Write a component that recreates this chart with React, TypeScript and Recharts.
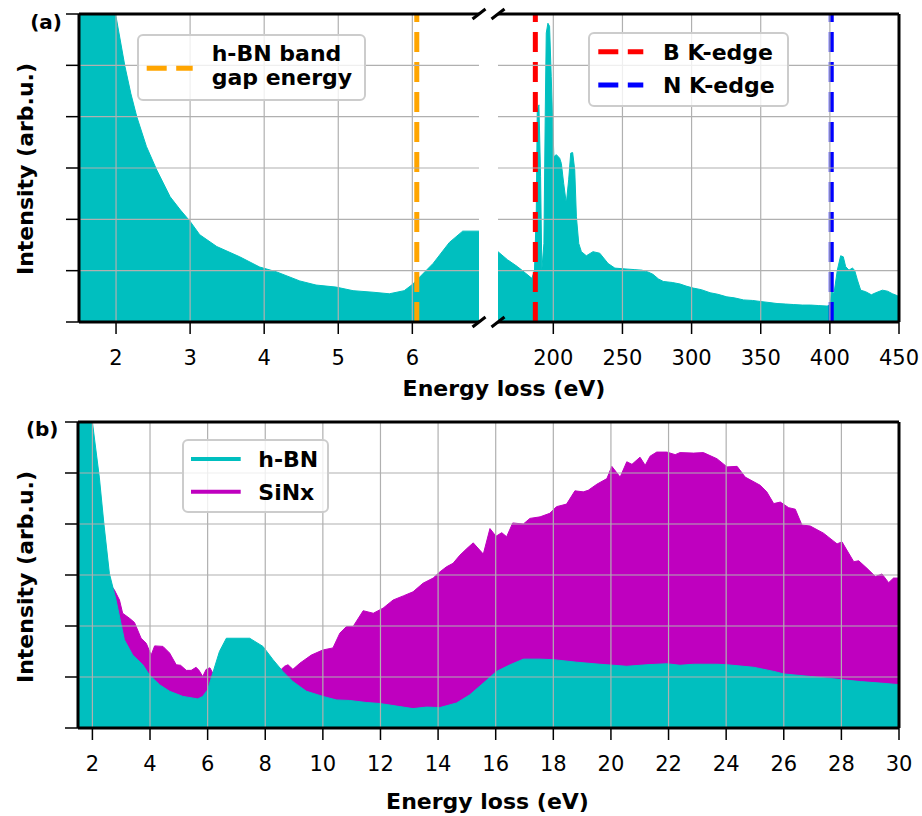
import React from 'react';
import { ComposedChart, Area, XAxis, YAxis, ReferenceLine, Legend } from 'recharts';

const TEAL = '#00BFBF';
const MAGENTA = '#BF00BF';
const ORANGE = '#FFA500';
const RED = '#FF0000';
const BLUE = '#0000FF';
const FONT = 'DejaVu Sans';

// Panel (a) left: low-loss region of h-BN
const lowLossX = [1.5, 1.75, 2.0, 2.12, 2.2, 2.28, 2.41, 2.55, 2.73, 2.87, 3.0, 3.13, 3.36, 3.67, 3.94, 4.16, 4.48, 4.7, 4.97, 5.2, 5.47, 5.69, 5.89, 6.0, 6.28, 6.5, 6.68, 6.9];
const lowLossY = [12, 8.4, 5.95, 4.98, 4.45, 4.0, 3.42, 2.96, 2.44, 2.18, 1.96, 1.7, 1.47, 1.27, 1.07, 0.98, 0.8, 0.72, 0.68, 0.61, 0.58, 0.55, 0.61, 0.73, 1.14, 1.55, 1.77, 1.77];

// Panel (a) right: core-loss region (B and N K-edges)
const coreLossX = [160, 167, 174, 180, 184.5, 186.4, 187.7, 188.4, 189.6, 190.8, 191.7, 193.2, 194.2, 194.9, 196.1, 197.3, 198.5, 200.4, 202.2, 204.6, 205.8, 207.5, 209.4, 211.1, 212.6, 214, 215.5, 216.7, 218.4, 220.3, 223.9, 228.7, 233.6, 239.6, 244.5, 249, 254, 259, 264, 268, 272, 276, 279.5, 286, 291.7, 296, 301.3, 307, 313.4, 319, 325.5, 331, 337.6, 344, 349.7, 356, 361.8, 368, 373.9, 380, 386, 392, 398, 400.5, 401, 403, 405.4, 407.8, 409.7, 411.4, 413.8, 416.3, 417.9, 419.9, 422.3, 425.9, 430, 433.2, 438, 441.7, 445.3, 449, 450];
const coreLossY = [1.37, 1.21, 1.08, 0.95, 0.85, 1.01, 2.18, 4.13, 4.23, 2.83, 1.01, 1.53, 4.13, 5.63, 5.82, 5.76, 4.78, 3.22, 3.26, 3.19, 3.09, 2.7, 2.31, 2.77, 3.29, 3.3, 2.96, 2.05, 1.53, 1.37, 1.29, 1.37, 1.34, 1.14, 1.05, 1.04, 1.03, 1.02, 1.01, 0.98, 0.93, 0.84, 0.79, 0.77, 0.74, 0.7, 0.66, 0.63, 0.57, 0.54, 0.49, 0.47, 0.43, 0.42, 0.4, 0.38, 0.36, 0.35, 0.34, 0.33, 0.33, 0.32, 0.31, 0.33, 0.59, 0.56, 1.01, 1.29, 1.27, 1.08, 1.01, 1.05, 1.01, 0.82, 0.62, 0.59, 0.53, 0.57, 0.62, 0.6, 0.55, 0.51, 0.5];

// Panel (b): h-BN and SiNx low-loss spectra
const hbnX = [1.5, 1.75, 2.0, 2.24, 2.4, 2.59, 2.82, 3.11, 3.4, 3.75, 3.98, 4.33, 4.68, 5.14, 5.66, 5.83, 6.0, 6.18, 6.41, 6.65, 7.46, 7.92, 8.27, 8.61, 8.96, 9.43, 10.0, 10.47, 10.93, 11.51, 11.98, 12.67, 13.13, 13.6, 14.06, 14.64, 15.1, 15.57, 16.03, 16.5, 16.96, 17.54, 18.0, 18.81, 19.62, 20.55, 21.25, 21.94, 22.4, 22.87, 23.68, 24.03, 24.96, 25.65, 26.0, 26.93, 27.97, 28.66, 29.36, 30];
const hbnY = [9, 7.5, 6.0, 4.92, 4.0, 3.03, 2.51, 1.73, 1.43, 1.24, 1.04, 0.85, 0.72, 0.62, 0.57, 0.62, 0.75, 1.08, 1.5, 1.76, 1.76, 1.6, 1.34, 1.11, 0.91, 0.72, 0.62, 0.55, 0.54, 0.5, 0.48, 0.42, 0.38, 0.41, 0.4, 0.49, 0.65, 0.88, 1.11, 1.24, 1.35, 1.35, 1.34, 1.29, 1.25, 1.21, 1.24, 1.26, 1.23, 1.25, 1.25, 1.24, 1.19, 1.11, 1.06, 1.01, 0.95, 0.91, 0.88, 0.85];
const sinxX = [1.5, 2.0, 2.4, 2.59, 2.76, 2.94, 3.05, 3.29, 3.46, 3.69, 3.87, 4.04, 4.16, 4.45, 4.68, 4.91, 5.06, 5.26, 5.43, 5.6, 5.7, 5.83, 5.95, 6.08, 6.25, 7.0, 8.0, 8.5, 8.67, 8.79, 8.96, 9.2, 9.6, 10.0, 10.35, 10.59, 10.82, 11.05, 11.4, 11.75, 12.09, 12.44, 12.79, 13.13, 13.48, 13.83, 14.06, 14.29, 14.52, 14.76, 15.0, 15.22, 15.57, 15.8, 16.01, 16.21, 16.38, 16.59, 16.96, 17.19, 17.54, 17.88, 18.11, 18.46, 18.75, 19.04, 19.21, 19.51, 19.86, 20.03, 20.32, 20.55, 20.73, 21.01, 21.19, 21.36, 21.59, 21.94, 22.23, 22.4, 22.87, 23.21, 23.68, 24.03, 24.38, 24.66, 25.18, 25.41, 25.65, 25.88, 26.17, 26.4, 26.63, 26.92, 27.38, 27.85, 28.02, 28.43, 28.6, 28.89, 29.18, 29.41, 29.64, 29.81, 30];
const sinxY = [5.5, 4.5, 3.3, 2.84, 2.71, 2.51, 2.25, 2.15, 2.07, 1.76, 1.66, 1.43, 1.61, 1.6, 1.47, 1.24, 1.23, 1.13, 1.13, 1.19, 1.13, 1.01, 1.15, 1.18, 1.0, 1.0, 1.05, 1.12, 1.21, 1.24, 1.15, 1.27, 1.43, 1.53, 1.57, 1.86, 1.99, 1.99, 2.3, 2.25, 2.35, 2.51, 2.59, 2.67, 2.84, 2.94, 3.06, 3.16, 3.23, 3.39, 3.52, 3.63, 3.41, 3.91, 3.76, 3.83, 3.75, 4.02, 4.0, 4.11, 4.14, 4.21, 4.34, 4.39, 4.65, 4.63, 4.66, 4.78, 4.89, 5.13, 4.92, 5.22, 5.17, 5.31, 5.15, 5.33, 5.41, 5.41, 5.36, 5.4, 5.39, 5.4, 5.28, 5.12, 5.13, 4.92, 4.76, 4.63, 4.4, 4.43, 4.32, 4.29, 3.98, 3.96, 3.82, 3.61, 3.65, 3.26, 3.28, 3.13, 2.97, 3.02, 2.85, 2.94, 2.94];

const lowTicks = [2, 3, 4, 5, 6];
const coreTicks = [200, 250, 300, 350, 400, 450];
const bTicks = [2, 4, 6, 8, 10, 12, 14, 16, 18, 20, 22, 24, 26, 28, 30];
const yTicks = [0, 1, 2, 3, 4, 5, 6];
const yGrid = [1, 2, 3, 4, 5];
const coreGrid = [200, 250, 300, 350, 400];
const bGrid = [2, 4, 6, 8, 10, 12, 14, 16, 18, 20, 22, 24, 26, 28];

const bandGapEnergy = 6.06;
const bKEdge = 187;
const nKEdge = 401;

const zip = (xs: number[], ys: number[]) => xs.map((x, i) => ({ x, y: ys[i] }));
const lowData = zip(lowLossX, lowLossY);
const coreData = zip(coreLossX, coreLossY);
const hbnData = zip(hbnX, hbnY);
const sinxData = zip(sinxX, sinxY);

const tickStyle = { fill: '#000', fontSize: 21, fontFamily: FONT };
const tickLineStyle = { stroke: '#000', strokeWidth: 1.5 };
const spine = { stroke: '#000', strokeWidth: 3 };
const GRID = '#b0b0b0';
const noLabel = () => <g />;

type LegendRow = { lines: string[]; baselines: number[]; color: string; dashed: boolean; sampleY: number };

function LegendBox({ width, height, rows, sx1, sx2, tx }: { width: number; height: number; rows: LegendRow[]; sx1: number; sx2: number; tx: number }) {
  return (
    <svg width={width} height={height} style={{ display: 'block', overflow: 'visible' }}>
      <rect x={1} y={1} width={width - 2} height={height - 2} rx={5} ry={5} fill="rgba(255,255,255,0.8)" stroke="#cccccc" strokeWidth={2} />
      {rows.map((r, i) => (
        <g key={i}>
          <line x1={sx1} x2={sx2} y1={r.sampleY} y2={r.sampleY} stroke={r.color} strokeWidth={r.dashed ? 5 : 4} strokeDasharray={r.dashed ? '20 9.5' : undefined} />
          {r.lines.map((t, j) => (
            <text key={j} x={tx} y={r.baselines[j]} fontFamily={FONT} fontWeight="bold" fontSize={22} fill="#000">{t}</text>
          ))}
        </g>
      ))}
    </svg>
  );
}

const legendProps = { layout: 'vertical' as const, align: 'center' as const, verticalAlign: 'middle' as const };

const gridLinesY = (vals: number[]) => vals.map((v) => <ReferenceLine key={'gy' + v} y={v} stroke={GRID} strokeWidth={1.2} />);
const gridLinesX = (vals: number[]) => vals.map((v) => <ReferenceLine key={'gx' + v} x={v} stroke={GRID} strokeWidth={1.2} />);

export default function App() {
  return (
    <div style={{ position: 'absolute', left: 0, top: 0, width: 922, height: 816, background: '#fff', fontFamily: FONT }}>
      {/* Panel (a) left */}
      <div style={{ position: 'absolute', left: 0, top: 0 }}>
        <ComposedChart width={490} height={400} data={lowData} margin={{ top: 14, right: 11, bottom: 18, left: 0 }}>
          <XAxis dataKey="x" type="number" domain={[1.5, 6.9]} ticks={lowTicks} interval={0} allowDataOverflow height={60}
            tickSize={12} tickMargin={16} tick={tickStyle} tickLine={tickLineStyle} axisLine={spine} />
          <YAxis type="number" domain={[0, 6]} ticks={yTicks} interval={0} allowDataOverflow width={79}
            tick={noLabel} tickSize={13} tickLine={tickLineStyle} axisLine={spine} />
          <Area dataKey="y" type="linear" stroke={TEAL} strokeWidth={1} fill={TEAL} fillOpacity={1} dot={false} activeDot={false} isAnimationActive={false} />
          <ReferenceLine x={bandGapEnergy} stroke={ORANGE} strokeWidth={5} strokeDasharray="20 10" />
          {gridLinesY(yGrid)}
          {gridLinesX(lowTicks)}
          <ReferenceLine y={6} stroke="#000" strokeWidth={3} />
          <Legend {...legendProps} wrapperStyle={{ left: 137, top: 34, width: 229, height: 67 }}
            content={() => (
              <LegendBox width={229} height={67} sx1={9.7} sx2={55.7} tx={74.7}
                rows={[{ lines: ['h-BN band', 'gap energy'], baselines: [27, 51], color: ORANGE, dashed: true, sampleY: 34.3 }]} />
            )} />
        </ComposedChart>
      </div>

      {/* Panel (a) right */}
      <div style={{ position: 'absolute', left: 490, top: 0 }}>
        <ComposedChart width={432} height={400} data={coreData} margin={{ top: 14, right: 23, bottom: 18, left: 8 }}>
          <XAxis dataKey="x" type="number" domain={[160, 450]} ticks={coreTicks} interval={0} allowDataOverflow height={60}
            tickSize={12} tickMargin={16} tick={tickStyle} tickLine={tickLineStyle} axisLine={spine} />
          <YAxis type="number" domain={[0, 6]} ticks={yTicks} allowDataOverflow hide />
          <Area dataKey="y" type="linear" stroke={TEAL} strokeWidth={1} fill={TEAL} fillOpacity={1} dot={false} activeDot={false} isAnimationActive={false} />
          <ReferenceLine x={bKEdge} stroke={RED} strokeWidth={5} strokeDasharray="20 10" />
          <ReferenceLine x={nKEdge} stroke={BLUE} strokeWidth={5} strokeDasharray="20 10" />
          {gridLinesY(yGrid)}
          {gridLinesX(coreGrid)}
          <ReferenceLine y={6} stroke="#000" strokeWidth={3} />
          <ReferenceLine x={450} stroke="#000" strokeWidth={3} />
          <Legend {...legendProps} wrapperStyle={{ left: 98, top: 32, width: 201, height: 75 }}
            content={() => (
              <LegendBox width={201} height={75} sx1={10.3} sx2={55.3} tx={75}
                rows={[
                  { lines: ['B K-edge'], baselines: [27.5], color: RED, dashed: true, sampleY: 19.7 },
                  { lines: ['N K-edge'], baselines: [60.8], color: BLUE, dashed: true, sampleY: 53 },
                ]} />
            )} />
        </ComposedChart>
      </div>

      {/* Panel (b) */}
      <div style={{ position: 'absolute', left: 0, top: 400 }}>
        <ComposedChart width={922} height={416} margin={{ top: 22, right: 23, bottom: 28, left: 0 }}>
          <XAxis dataKey="x" type="number" domain={[1.5, 30]} ticks={bTicks} interval={0} allowDataOverflow height={60}
            tickSize={12} tickMargin={16} tick={tickStyle} tickLine={tickLineStyle} axisLine={spine} />
          <YAxis type="number" domain={[0, 6]} ticks={yTicks} interval={0} allowDataOverflow width={78}
            tick={noLabel} tickSize={13} tickLine={tickLineStyle} axisLine={spine} />
          <Area data={sinxData} dataKey="y" name="SiNx" type="linear" stroke={MAGENTA} strokeWidth={1} fill={MAGENTA} fillOpacity={1} dot={false} activeDot={false} isAnimationActive={false} />
          <Area data={hbnData} dataKey="y" name="h-BN" type="linear" stroke={TEAL} strokeWidth={1} fill={TEAL} fillOpacity={1} dot={false} activeDot={false} isAnimationActive={false} />
          {gridLinesY(yGrid)}
          {gridLinesX(bGrid)}
          <ReferenceLine y={6} stroke="#000" strokeWidth={3} />
          <ReferenceLine x={30} stroke="#000" strokeWidth={3} />
          <Legend {...legendProps} wrapperStyle={{ left: 182, top: 39, width: 147, height: 74 }}
            content={() => (
              <LegendBox width={147} height={74} sx1={9} sx2={58.7} tx={76.3}
                rows={[
                  { lines: ['h-BN'], baselines: [28], color: TEAL, dashed: false, sampleY: 20 },
                  { lines: ['SiNx'], baselines: [60.5], color: MAGENTA, dashed: false, sampleY: 52.7 },
                ]} />
            )} />
        </ComposedChart>
      </div>

      {/* Labels and axis break marks */}
      <svg width={922} height={816} style={{ position: 'absolute', left: 0, top: 0, pointerEvents: 'none' }}>
        <g fontFamily={FONT} fontWeight="bold" fill="#000">
          <text x={62} y={29} fontSize={20} textAnchor="end">(a)</text>
          <text x={58.5} y={436} fontSize={20} textAnchor="end">(b)</text>
          <text x={504} y={396} fontSize={22} textAnchor="middle">Energy loss (eV)</text>
          <text x={487.5} y={809} fontSize={22} textAnchor="middle">Energy loss (eV)</text>
          <text x={33} y={169} fontSize={22} textAnchor="middle" transform="rotate(-90 33 169)">Intensity (arb.u.)</text>
          <text x={33} y={577} fontSize={22} textAnchor="middle" transform="rotate(-90 33 577)">Intensity (arb.u.)</text>
        </g>
        <g stroke="#000" strokeWidth={3}>
          <line x1={472.5} y1={19} x2={485.5} y2={9} />
          <line x1={491.5} y1={19} x2={504.5} y2={9} />
          <line x1={472.5} y1={327} x2={485.5} y2={317} />
          <line x1={491.5} y1={327} x2={504.5} y2={317} />
        </g>
      </svg>
    </div>
  );
}
